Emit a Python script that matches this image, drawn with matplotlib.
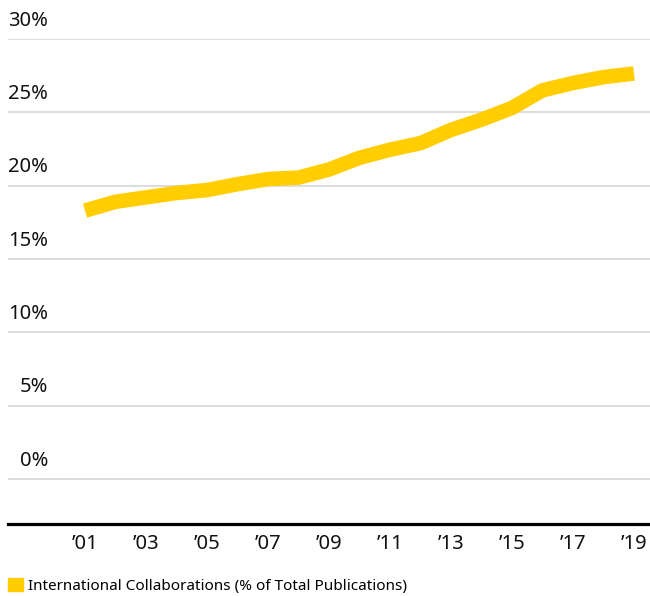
import numpy as np
import matplotlib
matplotlib.use("Agg")
import matplotlib.pyplot as plt
from matplotlib.patches import Patch

# International collaborations as share of total publications
years = np.arange(2001, 2020)
share = [18.3, 18.9, 19.2, 19.5, 19.7, 20.1, 20.45, 20.55, 21.1, 21.9,
         22.45, 22.9, 23.8, 24.5, 25.3, 26.5, 27.0, 27.4, 27.65]
yticks = [0, 5, 10, 15, 20, 25, 30]
xtick_years = list(range(2001, 2020, 2))
xtick_labels = ["\u2019%02d" % (y % 100) for y in xtick_years]
legend_label = "International Collaborations (% of Total Publications)"

yellow = "#FFCD00"
plt.rcParams["font.family"] = ["Noto Sans", "DejaVu Sans"]

W, H = 650, 596
fig = plt.figure(figsize=(W / 100, H / 100), dpi=100)
ax = fig.add_axes([8 / W, 1 - 524 / H, 642 / W, (524 - 39) / H])

ax.plot(years, share, color=yellow, lw=10.5, solid_capstyle="butt",
        solid_joinstyle="miter", zorder=3)

ax.set_ylim(-3.07, 30)
ax.set_xlim(2001 - 77 / 30.5, 2019 + 16 / 30.5)

# gridlines with labels sitting above them
for v in yticks:
    ax.axhline(v, color="#dddddd", lw=1.4, zorder=1)
    ax.annotate("%d%%" % v, xy=(40 / 642, v), xycoords=ax.get_yaxis_transform(),
                xytext=(0, 9.5), textcoords="offset points",
                ha="right", va="baseline", fontsize=14.5, color="#111111")
ax.set_yticks([])

ax.set_xticks(xtick_years)
ax.set_xticklabels(xtick_labels, fontsize=14.5, color="#111111")
ax.tick_params(axis="x", length=0, pad=7)

for s in ["top", "left", "right"]:
    ax.spines[s].set_visible(False)
ax.spines["bottom"].set_linewidth(2.3)
ax.spines["bottom"].set_color("black")

fig.legend(handles=[Patch(color=yellow)], labels=[legend_label],
           loc="lower left", bbox_to_anchor=(8 / W, 2 / H), frameon=False,
           fontsize=11, handlelength=0.98, handleheight=0.98,
           handletextpad=0.33, borderpad=0, borderaxespad=0)

fig.savefig("out.png", dpi=100)
